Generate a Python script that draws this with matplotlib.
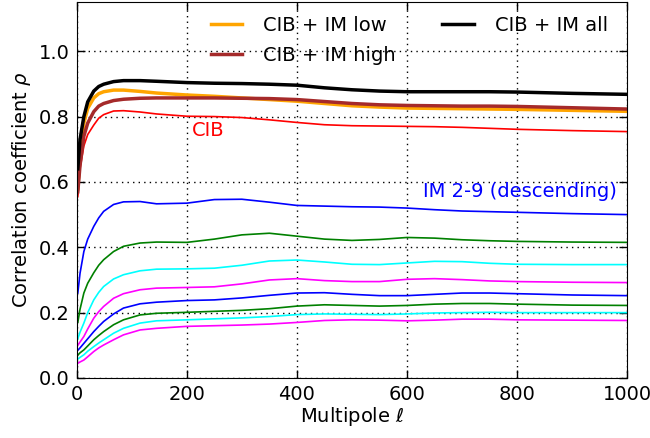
import numpy as np
import matplotlib
matplotlib.use("Agg")
import matplotlib.pyplot as plt

# multipoles at which the correlation coefficients are tabulated
ell = [2, 6, 13, 20, 31, 40, 49, 67, 85, 115, 145, 200, 250, 300, 350,
       400, 450, 500, 550, 600, 650, 700, 750, 800, 900, 1000]

rho_all = [0.64, 0.73, 0.80, 0.845, 0.878, 0.892, 0.899, 0.907, 0.910, 0.910,
           0.908, 0.904, 0.902, 0.901, 0.899, 0.896, 0.888, 0.882, 0.878, 0.876,
           0.876, 0.876, 0.876, 0.875, 0.871, 0.868]
rho_low = [0.58, 0.69, 0.78, 0.825, 0.857, 0.870, 0.876, 0.881, 0.881, 0.877,
           0.872, 0.866, 0.862, 0.857, 0.852, 0.847, 0.840, 0.833, 0.829, 0.826,
           0.825, 0.824, 0.823, 0.822, 0.819, 0.816]
rho_high = [0.57, 0.65, 0.74, 0.78, 0.815, 0.832, 0.840, 0.849, 0.853, 0.856,
            0.857, 0.857, 0.857, 0.856, 0.855, 0.852, 0.846, 0.840, 0.836, 0.834,
            0.833, 0.832, 0.832, 0.831, 0.827, 0.823]
rho_cib = [0.555, 0.64, 0.71, 0.745, 0.774, 0.795, 0.806, 0.817, 0.818, 0.814,
           0.808, 0.801, 0.800, 0.797, 0.790, 0.782, 0.775, 0.772, 0.771, 0.770,
           0.769, 0.767, 0.764, 0.761, 0.757, 0.754]

# intensity mapping bins 2..9
rho_im = [
    [0.26, 0.32, 0.387, 0.425, 0.464, 0.49, 0.51, 0.531, 0.539, 0.540, 0.533,
     0.535, 0.546, 0.547, 0.538, 0.528, 0.526, 0.524, 0.523, 0.520, 0.515,
     0.511, 0.509, 0.507, 0.503, 0.500],
    [0.17, 0.21, 0.26, 0.29, 0.322, 0.345, 0.362, 0.387, 0.403, 0.413, 0.416,
     0.415, 0.425, 0.438, 0.443, 0.434, 0.425, 0.421, 0.424, 0.430, 0.428,
     0.423, 0.420, 0.418, 0.416, 0.415],
    [0.12, 0.14, 0.168, 0.20, 0.239, 0.262, 0.28, 0.303, 0.316, 0.328, 0.333,
     0.334, 0.336, 0.345, 0.358, 0.361, 0.355, 0.348, 0.347, 0.352, 0.357,
     0.356, 0.351, 0.348, 0.347, 0.347],
    [0.10, 0.11, 0.127, 0.15, 0.183, 0.203, 0.219, 0.244, 0.258, 0.270, 0.275,
     0.277, 0.279, 0.288, 0.300, 0.304, 0.298, 0.295, 0.295, 0.302, 0.304,
     0.301, 0.297, 0.295, 0.293, 0.292],
    [0.085, 0.092, 0.106, 0.12, 0.142, 0.158, 0.173, 0.196, 0.214, 0.227, 0.232,
     0.237, 0.239, 0.245, 0.253, 0.260, 0.261, 0.256, 0.252, 0.252, 0.256,
     0.260, 0.260, 0.258, 0.254, 0.252],
    [0.07, 0.077, 0.086, 0.098, 0.117, 0.130, 0.142, 0.163, 0.178, 0.193, 0.198,
     0.201, 0.204, 0.207, 0.212, 0.220, 0.224, 0.222, 0.220, 0.222, 0.226,
     0.228, 0.228, 0.226, 0.223, 0.222],
    [0.058, 0.063, 0.071, 0.082, 0.096, 0.107, 0.117, 0.137, 0.152, 0.168, 0.175,
     0.178, 0.181, 0.184, 0.188, 0.194, 0.196, 0.195, 0.194, 0.196, 0.199,
     0.200, 0.201, 0.200, 0.200, 0.200],
    [0.045, 0.049, 0.055, 0.065, 0.081, 0.092, 0.101, 0.117, 0.132, 0.147, 0.152,
     0.158, 0.160, 0.162, 0.165, 0.170, 0.176, 0.178, 0.177, 0.175, 0.177,
     0.180, 0.180, 0.178, 0.177, 0.176],
]
im_colors = ['blue', 'green', 'cyan', 'magenta'] * 2

fig = plt.figure(figsize=(6.5, 4.38), dpi=100)
ax = fig.add_axes([0.118, 0.137, 0.847, 0.858])

for rho, c in zip(rho_im, im_colors):
    ax.plot(ell, rho, color=c, lw=1.2)

ax.plot(ell, rho_cib, color='red', lw=1.2)
ax.plot(ell, rho_low, color='orange', lw=2.5, label='CIB + IM low')
ax.plot(ell, rho_high, color='brown', lw=2.5, label='CIB + IM high')
ax.plot(ell, rho_all, color='black', lw=2.5, label='CIB + IM all')

ax.text(210, 0.757, 'CIB', color='red', fontsize=14, va='center')
ax.text(982, 0.57, 'IM 2-9 (descending)', color='blue', fontsize=14,
        va='center', ha='right')

ax.set_xlim(0, 1000)
ax.set_ylim(0, 1.15)
ax.set_xticks(np.arange(0, 1001, 200))
ax.set_yticks(np.arange(0, 1.01, 0.2))
ax.set_yticklabels(['%.1f' % v for v in np.arange(0, 1.01, 0.2)])
ax.grid(True, color='black', linestyle=(0, (1, 3)), linewidth=1.0)
ax.tick_params(direction='in', top=True, right=True, length=6, width=1,
               labelsize=14, pad=5)
ax.set_xlabel(r'Multipole $\ell$', fontsize=14, labelpad=1)
ax.set_ylabel(r'Correlation coefficient $\rho$', fontsize=14, labelpad=4)

ax.legend(loc='upper right', ncol=2, frameon=False, fontsize=14,
          handlelength=1.6, columnspacing=2.4, labelspacing=0.55,
          handletextpad=1.1, bbox_to_anchor=(0.997, 1.01))

fig.savefig('out.png', dpi=100)
